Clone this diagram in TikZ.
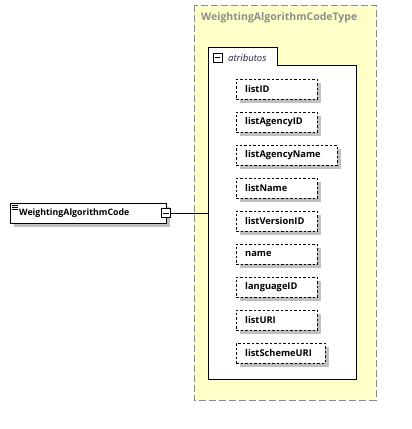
\documentclass[tikz,border=0pt]{standalone}
\usepackage{fontspec}
\setmainfont{Open Sans}
\usetikzlibrary{calc,positioning,shadows}
\definecolor{typefill}{HTML}{FFFFC8}
\definecolor{typeline}{HTML}{8C8C8C}
\definecolor{shadowgray}{HTML}{C0C0C0}
\definecolor{grptext}{HTML}{1F1F3F}
\tikzset{
  attrbox/.style={draw, dash pattern=on 2.5pt off 2pt, fill=white, anchor=west,
    minimum height=20pt, inner xsep=9pt, inner ysep=0pt, align=left,
    font=\bfseries\fontsize{9.3}{10}\selectfont,
    drop shadow={shadow xshift=4pt, shadow yshift=-4pt, fill=shadowgray, opacity=1}},
  elembox/.style={draw, fill=white, anchor=west, minimum height=20pt,
    inner xsep=9pt, inner ysep=0pt, align=left,
    font=\bfseries\fontsize{8.8}{10}\selectfont,
    drop shadow={shadow xshift=4pt, shadow yshift=-4pt, fill=shadowgray, opacity=1}},
  minusbox/.style={draw, fill=white, minimum size=9pt, inner sep=0pt},
}
\begin{document}
\begin{tikzpicture}[x=1pt,y=-1pt]
\useasboundingbox (0,0) rectangle (412,429);

% Draw the type box.
\draw[typeline, dash pattern=on 7pt off 3pt, fill=typefill] (194,5) rectangle (376,400);
\node[anchor=west, text=typeline, inner sep=0pt, font=\bfseries\fontsize{10.5}{11}\selectfont]
  (typename) at (201,18) {WeightingAlgorithmCodeType};

% Draw the attribute group with its tab.
\draw[fill=white] (208,379) -- (208,47) -- (277,47) -- (277,65) -- (356,65) -- (356,379) -- cycle;
\node[minusbox] (grpminus) at (217.5,57.5) {};
\draw (grpminus.west) ++(2pt,0) -- ($(grpminus.east)+(-2pt,0)$);
\node[anchor=west, inner sep=0pt, text=grptext, font=\itshape\fontsize{9.5}{10}\selectfont] (grplabel) at (228,57.5) {atributos};

% Draw the attributes.
\foreach \name/\w [count=\i] in {listID/81,listAgencyID/81,listAgencyName/101,listName/81,
  listVersionID/81,name/81,languageID/81,listURI/81,listSchemeURI/89}
  \node[attrbox, text width=\w pt-18pt] (attr\i) at (236,{89+33*(\i-1)}) {\name};

% Draw the element.
\node[elembox, text width=138pt] (elem) at (10,213) {WeightingAlgorithmCode};
\foreach \Y in {205,207,209}
  \draw[line width=0.6pt] (12,\Y) -- (18,\Y);
\node[minusbox] (elemminus) at (166,213) {};
\draw (elemminus.west) ++(2pt,0) -- ($(elemminus.east)+(-2pt,0)$);
\coordinate (grpleft) at (208,213);
\draw (elemminus.east) -- (grpleft);
\end{tikzpicture}
\end{document}
